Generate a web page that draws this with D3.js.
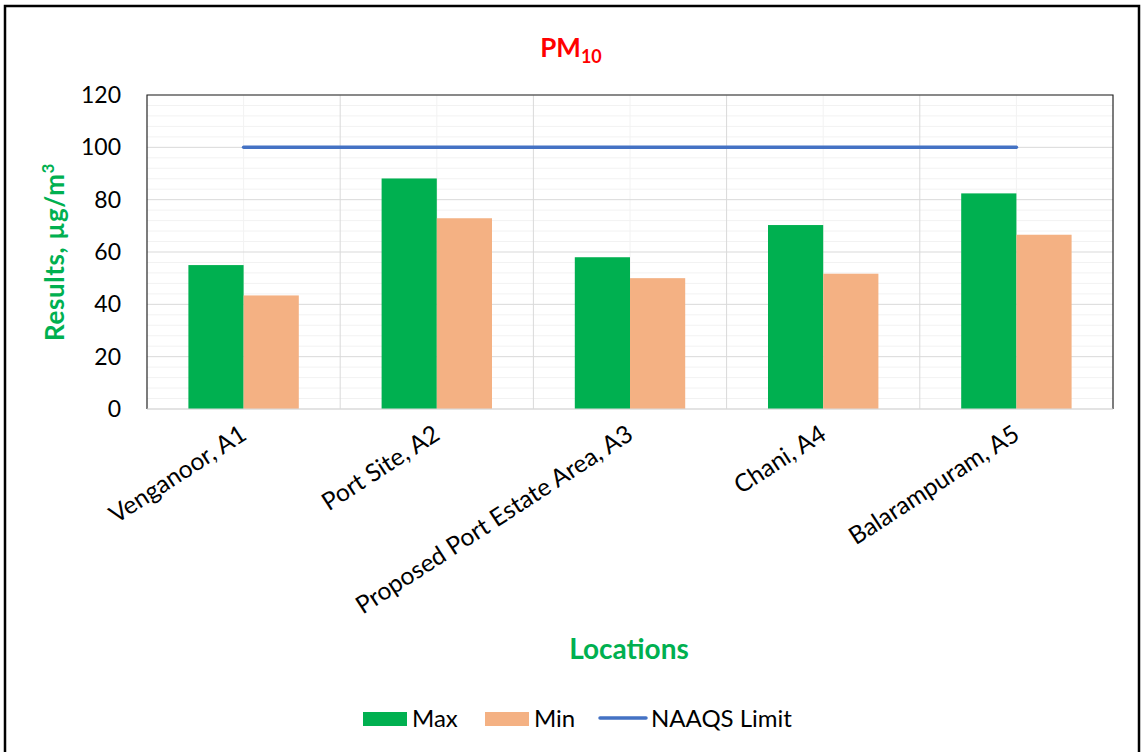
<!DOCTYPE html>
<html><head><meta charset="utf-8">
<script src="https://cdn.jsdelivr.net/npm/d3@7"></script>
<style>body{margin:0;background:#fff}svg{display:block}text{font-family:Lato,"Open Sans",sans-serif}</style>
</head><body><svg id="c" width="1145" height="752"></svg>
<script>
const categories = ["Venganoor, A1","Port Site, A2","Proposed Port Estate Area, A3","Chani, A4","Balarampuram, A5"];
const maxValues = [55.0, 88.1, 58.0, 70.3, 82.4];
const minValues = [43.4, 72.9, 50.0, 51.7, 66.6];
const limitValues = [100, 100, 100, 100, 100];
const yTicks = [0,20,40,60,80,100,120];
const seriesNames = ["Max","Min","NAAQS Limit"];

const svg = d3.select("#c");
const m={l:147,r:1113,t:95,b:409};
svg.append("rect").attr("x",5).attr("y",6).attr("width",1134).attr("height",760).attr("fill","#fff").attr("stroke","#000").attr("stroke-width",2.5);

const x = d3.scaleBand().domain(categories).range([m.l,m.r]).paddingInner(0).paddingOuter(0);
const y = d3.scaleLinear().domain([0,120]).range([m.b,m.t]);
// gap width 150% -> each bar = bandwidth/3.5
const inner = d3.scaleBand().domain(["Max","Min"]).range([0,x.bandwidth()]).paddingInner(0).paddingOuter(0.75);

const g = svg.append("g");
const minor = d3.range(0,121,4).filter(v=>v%20!==0);
g.selectAll(".mh").data(minor).join("line").attr("x1",m.l).attr("x2",m.r).attr("y1",d=>y(d)).attr("y2",d=>y(d)).attr("stroke","#f2f2f2").attr("stroke-width",1);
g.selectAll(".mv").data(categories).join("line").attr("x1",d=>x(d)+x.bandwidth()/2).attr("x2",d=>x(d)+x.bandwidth()/2).attr("y1",m.t).attr("y2",m.b).attr("stroke","#f2f2f2");
g.selectAll(".h").data(yTicks).join("line").attr("x1",m.l).attr("x2",m.r).attr("y1",d=>y(d)).attr("y2",d=>y(d)).attr("stroke","#d9d9d9");
g.selectAll(".v").data(categories.slice(1)).join("line").attr("x1",d=>x(d)).attr("x2",d=>x(d)).attr("y1",m.t).attr("y2",m.b).attr("stroke","#d9d9d9");

const colors={Max:"#00B050",Min:"#F4B183"};
const data = categories.map((c,i)=>({c, Max:maxValues[i], Min:minValues[i]}));
data.forEach(d=>{
  ["Max","Min"].forEach(s=>{
    g.append("rect").attr("x",x(d.c)+inner(s)).attr("width",inner.bandwidth()).attr("y",y(d[s])).attr("height",y(0)-y(d[s])).attr("fill",colors[s]);
  });
});
g.append("path").attr("d",`M${m.l},${m.b}V${m.t}H${m.r}V${m.b}`).attr("fill","none").attr("stroke","#262626").attr("stroke-width",1.2);
g.append("line").attr("x1",m.l).attr("x2",m.r).attr("y1",m.b).attr("y2",m.b).attr("stroke","#d9d9d9").attr("stroke-width",1.2);

const line=d3.line().x((d,i)=>x(categories[i])+x.bandwidth()/2).y(d=>y(d));
g.append("path").datum(limitValues).attr("d",line).attr("fill","none").attr("stroke","#4472C4").attr("stroke-width",3.5).attr("stroke-linecap","round");

const ya = svg.append("g").attr("transform",`translate(${m.l},0)`).call(d3.axisLeft(y).tickValues(yTicks).tickSize(0).tickPadding(26));
ya.select(".domain").remove();
ya.selectAll("text").attr("font-size",23).attr("fill","#000").attr("font-family","Lato,sans-serif");

categories.forEach(c=>{
  const cx=x(c)+x.bandwidth()/2, cy=431;
  svg.append("text").attr("transform",`translate(${cx},${cy}) rotate(-33)`).attr("text-anchor","end").attr("dy","0.35em").attr("font-size",24.5).attr("fill","#000").text(c);
});

const t=svg.append("text").attr("x",571).attr("y",57).attr("text-anchor","middle").attr("font-size",26).attr("font-weight","bold").attr("fill","#FF0000");
t.append("tspan").text("PM");
t.append("tspan").attr("font-size",18).attr("dy",6).text("10");

const yt=svg.append("text").attr("transform","translate(64,252) rotate(-90)").attr("text-anchor","middle").attr("font-size",26).attr("letter-spacing",0.6).attr("font-weight","bold").attr("fill","#00B050");
yt.append("tspan").text("Results, µg/m");
yt.append("tspan").attr("font-size",17).attr("dy",-10).text("3");
svg.append("text").attr("x",629).attr("y",659).attr("text-anchor","middle").attr("font-size",28).attr("font-weight","bold").attr("fill","#00B050").text("Locations");

const lg=svg.append("g");
const leg=[{n:seriesNames[0],t:"rect",c:colors.Max,x:363},{n:seriesNames[1],t:"rect",c:colors.Min,x:485},{n:seriesNames[2],t:"line",c:"#4472C4",x:600}];
leg.forEach(d=>{
  if(d.t==="rect") lg.append("rect").attr("x",d.x).attr("y",712).attr("width",44).attr("height",14).attr("fill",d.c);
  else lg.append("line").attr("x1",d.x).attr("x2",d.x+46).attr("y1",718).attr("y2",718).attr("stroke",d.c).attr("stroke-width",3.5).attr("stroke-linecap","round");
  lg.append("text").attr("x",d.x+(d.t==="rect"?49:51)).attr("y",719).attr("dy","0.35em").attr("font-size",24).attr("fill","#000").text(d.n);
});
</script></body></html>
